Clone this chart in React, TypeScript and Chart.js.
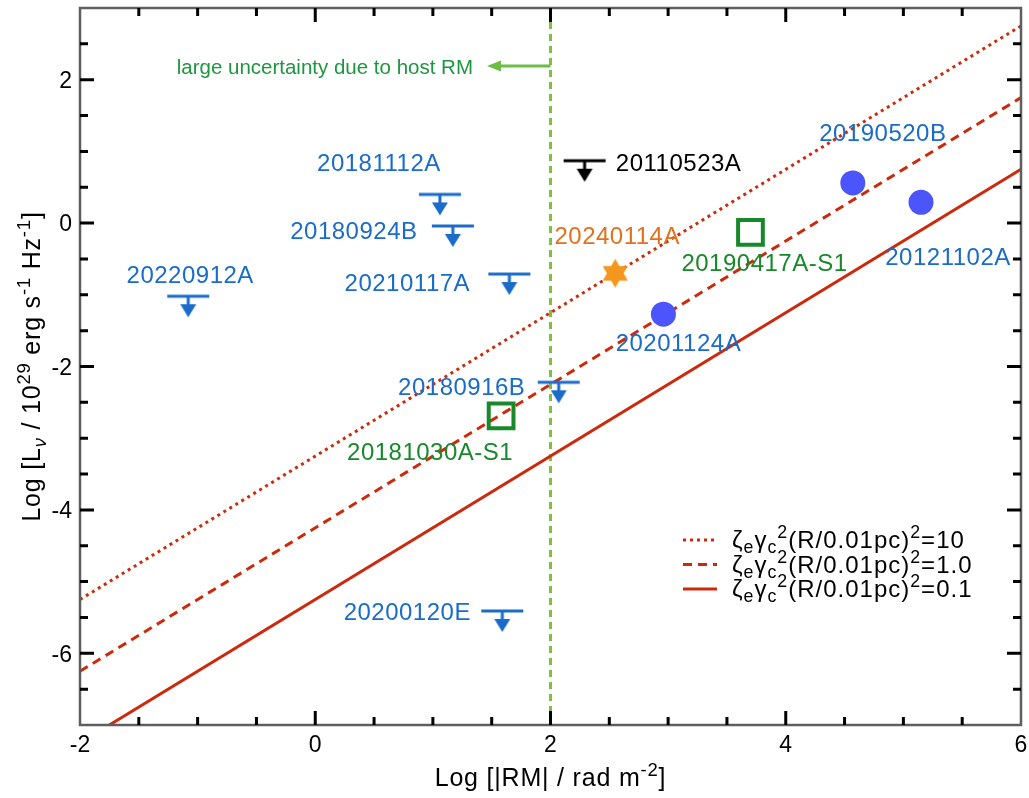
import React, { useEffect, useRef } from 'react';
import { Chart, registerables } from 'chart.js';

Chart.register(...registerables);

const FONT = '"Liberation Sans", Arial, Helvetica, sans-serif';

// ---- axes ----
const xMin = -2;
const xMax = 6;
const yMin = -7;
const yMax = 3;
const xTickValues = [-2, 0, 2, 4, 6];
const yTickValues = [-6, -4, -2, 0, 2];
const xTickLabels = ['-2', '0', '2', '4', '6'];
const yTickLabels = ['-6', '-4', '-2', '0', '2'];
const minorStep = 0.5;

// ---- model lines: Log L vs Log |RM| ----
const modelX = [-2, 6];
const modelDottedY = [-5.25, 2.75];
const modelDashedY = [-6.25, 1.75];
const modelSolidY = [-7.25, 0.75];
const modelValues = ['10', '1.0', '0.1'];

// ---- host RM boundary ----
const boundaryX = [2, 2];
const boundaryY = [-7, 3];
const noteText = 'large uncertainty due to host RM';
const noteY = 2.19;
const noteArrowTipX = 1.46;

// ---- sources ----
const circleNames = ['20190520B', '20121102A', '20201124A'];
const circleX = [4.57, 5.15, 2.96];
const circleY = [0.56, 0.29, -1.27];

const starNames = ['20240114A'];
const starX = [2.55];
const starY = [-0.7];

const squareNames = ['20190417A-S1', '20181030A-S1'];
const squareX = [3.7, 1.58];
const squareY = [-0.13, -2.69];

const limitNames = ['20181112A', '20180924B', '20210117A', '20220912A', '20180916B', '20200120E'];
const limitX = [1.06, 1.17, 1.65, -1.08, 2.07, 1.59];
const limitY = [0.4, -0.04, -0.71, -1.02, -2.22, -5.41];

const blackLimitNames = ['20110523A'];
const blackLimitX = [2.29];
const blackLimitY = [0.87];

// label placement (pixel offset of text centre from marker)
const labelOffsets: Record<string, [number, number]> = {
  '20190520B': [30, -49],
  '20121102A': [27, 56],
  '20201124A': [15, 30],
  '20240114A': [2, -36],
  '20190417A-S1': [14, 32],
  '20181030A-S1': [-71, 37],
  '20181112A': [-61, -30],
  '20180924B': [-99, 6],
  '20210117A': [-102, 10],
  '20220912A': [2, -20],
  '20180916B': [-97, 6],
  '20200120E': [-95, 2],
  '20110523A': [94, 4],
};

const RED = '#cc2a0c';
const BLUE = '#1a6cc8';
const CIRCLE = '#4c54fb';
const GREEN = '#17892b';
const ORANGE = '#f4971f';
const ORANGE_TEXT = '#e2711c';
const VLINE = '#7cc242';
const NOTE = '#1e9640';

const DOTTED = [3, 4];
const DASHED = [9, 6];

type Seg = { t: string; sub?: boolean; sup?: boolean; italic?: boolean };

function setSpacing(ctx: any, px: number) {
  if ('letterSpacing' in ctx) ctx.letterSpacing = `${px}px`;
}

function drawRich(ctx: CanvasRenderingContext2D, segs: Seg[], x: number, y: number, size: number, align: 'left' | 'center' | 'right') {
  const parts = segs.map((s) => {
    const fs = s.sub || s.sup ? size * 0.74 : size;
    const font = `${s.italic ? 'italic ' : ''}${fs}px ${FONT}`;
    ctx.font = font;
    const w = ctx.measureText(s.t).width;
    const dy = s.sub ? size * 0.22 : s.sup ? -size * 0.4 : 0;
    return { t: s.t, font, w, dy };
  });
  const total = parts.reduce((a, p) => a + p.w, 0);
  let cx = align === 'center' ? x - total / 2 : align === 'right' ? x - total : x;
  ctx.textAlign = 'left';
  ctx.textBaseline = 'alphabetic';
  for (const p of parts) {
    ctx.font = p.font;
    ctx.fillText(p.t, cx, y + p.dy);
    cx += p.w;
  }
}

function makeStar(r: number, color: string) {
  const size = Math.ceil(r * 2 + 2);
  const c = document.createElement('canvas');
  c.width = size;
  c.height = size;
  const g = c.getContext('2d')!;
  const cx = size / 2;
  g.fillStyle = color;
  g.beginPath();
  for (let i = 0; i < 12; i++) {
    const ang = -Math.PI / 2 + (i * Math.PI) / 6;
    const rad = i % 2 === 0 ? r : r / Math.sqrt(3);
    g.lineTo(cx + rad * Math.cos(ang), cx + rad * Math.sin(ang));
  }
  g.closePath();
  g.fill();
  return c;
}

function makeLimit(color: string) {
  const w = 44;
  const h = 52;
  const c = document.createElement('canvas');
  c.width = w;
  c.height = h;
  const g = c.getContext('2d')!;
  const cy = h / 2;
  const cx = w / 2;
  g.strokeStyle = color;
  g.fillStyle = color;
  g.lineWidth = 3;
  g.beginPath();
  g.moveTo(1, cy);
  g.lineTo(w - 1, cy);
  g.moveTo(cx, cy);
  g.lineTo(cx, cy + 10);
  g.stroke();
  g.beginPath();
  g.moveTo(cx - 8, cy + 8);
  g.lineTo(cx + 8, cy + 8);
  g.lineTo(cx, cy + 21);
  g.closePath();
  g.fill();
  return c;
}

const pts = (xs: number[], ys: number[]) => xs.map((x, i) => ({ x, y: ys[i] }));

const legendSegs = (v: string): Seg[] => [
  { t: 'ζ' },
  { t: 'e', sub: true },
  { t: 'γ' },
  { t: 'c', sub: true },
  { t: '2', sup: true },
  { t: '(R/0.01pc)' },
  { t: '2', sup: true },
  { t: '=' + v },
];

const decorPlugin = {
  id: 'decor',
  afterDraw(chart: any) {
    const ctx: CanvasRenderingContext2D = chart.ctx;
    const { left, right, top, bottom } = chart.chartArea;
    const xs = chart.scales.x;
    const ys = chart.scales.y;
    ctx.save();

    // frame
    ctx.strokeStyle = '#5f5f5f';
    ctx.lineWidth = 2.5;
    ctx.setLineDash([]);
    ctx.strokeRect(left, top, right - left, bottom - top);

    // inward ticks on all four sides
    ctx.strokeStyle = '#000';
    ctx.lineWidth = 3;
    ctx.beginPath();
    for (let v = xMin + minorStep; v < xMax - 1e-9; v += minorStep) {
      const major = xTickValues.some((t) => Math.abs(t - v) < 1e-9);
      const len = major ? 14 : 8;
      const px = xs.getPixelForValue(v);
      ctx.moveTo(px, bottom);
      ctx.lineTo(px, bottom - len);
      ctx.moveTo(px, top);
      ctx.lineTo(px, top + len);
    }
    for (let v = yMin + minorStep; v < yMax - 1e-9; v += minorStep) {
      const major = yTickValues.some((t) => Math.abs(t - v) < 1e-9);
      const len = major ? 14 : 8;
      const py = ys.getPixelForValue(v);
      ctx.moveTo(left, py);
      ctx.lineTo(left + len, py);
      ctx.moveTo(right, py);
      ctx.lineTo(right - len, py);
    }
    ctx.stroke();

    // tick labels
    ctx.fillStyle = '#000';
    ctx.font = `23px ${FONT}`;
    ctx.textBaseline = 'alphabetic';
    ctx.textAlign = 'center';
    xTickValues.forEach((v, i) => {
      ctx.fillText(xTickLabels[i], xs.getPixelForValue(v), bottom + 27);
    });
    ctx.textAlign = 'right';
    yTickValues.forEach((v, i) => {
      ctx.fillText(yTickLabels[i], left - 8, ys.getPixelForValue(v) + 8.2);
    });

    // host RM note with arrow
    const ax0 = xs.getPixelForValue(boundaryX[0]);
    const ax1 = xs.getPixelForValue(noteArrowTipX);
    const ay = ys.getPixelForValue(noteY);
    ctx.strokeStyle = '#6bbd45';
    ctx.fillStyle = '#6bbd45';
    ctx.lineWidth = 3;
    ctx.beginPath();
    ctx.moveTo(ax0, ay);
    ctx.lineTo(ax1 + 10, ay);
    ctx.stroke();
    ctx.beginPath();
    ctx.moveTo(ax1, ay);
    ctx.lineTo(ax1 + 14, ay - 5.5);
    ctx.lineTo(ax1 + 14, ay + 5.5);
    ctx.closePath();
    ctx.fill();
    ctx.fillStyle = NOTE;
    ctx.font = `20.5px ${FONT}`;
    ctx.textAlign = 'right';
    ctx.textBaseline = 'middle';
    ctx.fillText(noteText, ax1 - 14, ay + 2);

    // point labels
    setSpacing(ctx, 0.5);
    ctx.font = `24px ${FONT}`;
    ctx.textAlign = 'center';
    ctx.textBaseline = 'middle';
    chart.data.datasets.forEach((ds: any, di: number) => {
      if (!ds.names) return;
      const meta = chart.getDatasetMeta(di);
      ds.names.forEach((name: string, i: number) => {
        const el = meta.data[i];
        const off = labelOffsets[name] || [0, -25];
        ctx.fillStyle = ds.labelColor;
        ctx.fillText(name, el.x + off[0], el.y + off[1]);
      });
    });

    // legend
    setSpacing(ctx, 1);
    const styles = [DOTTED, DASHED, []];
    const rowsY = [540, 564.5, 589];
    styles.forEach((dash, i) => {
      const yy = rowsY[i];
      ctx.strokeStyle = RED;
      ctx.lineWidth = 3;
      ctx.setLineDash(dash);
      ctx.beginPath();
      ctx.moveTo(683, yy);
      ctx.lineTo(717, yy);
      ctx.stroke();
      ctx.setLineDash([]);
      ctx.fillStyle = '#000';
      drawRich(ctx, legendSegs(modelValues[i]), 732, yy + 8, 24, 'left');
    });

    // axis titles
    ctx.fillStyle = '#000';
    setSpacing(ctx, 0.8);
    drawRich(
      ctx,
      [{ t: 'Log [|RM| / rad m' }, { t: '-2', sup: true }, { t: ']' }],
      (left + right) / 2,
      786,
      25,
      'center'
    );
    ctx.save();
    ctx.translate(40, (top + bottom) / 2);
    ctx.rotate(-Math.PI / 2);
    drawRich(
      ctx,
      [
        { t: 'Log [L' },
        { t: 'ν', sub: true, italic: true },
        { t: ' / 10' },
        { t: '29', sup: true },
        { t: ' erg s' },
        { t: '-1', sup: true },
        { t: ' Hz' },
        { t: '-1', sup: true },
        { t: ']' },
      ],
      0,
      0,
      25,
      'center'
    );
    ctx.restore();
    setSpacing(ctx, 0);

    ctx.restore();
  },
};

export default function App() {
  const ref = useRef<HTMLCanvasElement>(null);
  useEffect(() => {
    document.body.style.margin = '0';
    const starImg = makeStar(14.5, ORANGE);
    const limitBlue = makeLimit(BLUE);
    const limitBlack = makeLimit('#000');
    const chart = new Chart(ref.current!, {
      type: 'scatter',
      data: {
        datasets: [
          {
            label: 'model 10',
            data: pts(modelX, modelDottedY),
            showLine: true,
            borderColor: RED,
            borderWidth: 3,
            borderDash: DOTTED,
            pointRadius: 0,
            order: 3,
          },
          {
            label: 'model 1.0',
            data: pts(modelX, modelDashedY),
            showLine: true,
            borderColor: RED,
            borderWidth: 3,
            borderDash: DASHED,
            pointRadius: 0,
            order: 3,
          },
          {
            label: 'model 0.1',
            data: pts(modelX, modelSolidY),
            showLine: true,
            borderColor: RED,
            borderWidth: 3,
            pointRadius: 0,
            order: 3,
          },
          {
            label: 'host RM boundary',
            data: pts(boundaryX, boundaryY),
            showLine: true,
            borderColor: VLINE,
            borderWidth: 3,
            borderDash: [7, 5],
            pointRadius: 0,
            order: 4,
          },
          {
            label: 'circles',
            data: pts(circleX, circleY),
            pointStyle: 'circle',
            pointRadius: 12.5,
            backgroundColor: CIRCLE,
            borderWidth: 0,
            names: circleNames,
            labelColor: BLUE,
            order: 0,
          } as any,
          {
            label: 'star',
            data: pts(starX, starY),
            pointStyle: starImg,
            pointRadius: 14,
            names: starNames,
            labelColor: ORANGE_TEXT,
            order: 0,
          } as any,
          {
            label: 'squares',
            data: pts(squareX, squareY),
            pointStyle: 'rect',
            pointRadius: 17.5,
            backgroundColor: 'rgba(0,0,0,0)',
            borderColor: GREEN,
            borderWidth: 4,
            names: squareNames,
            labelColor: GREEN,
            order: 0,
          } as any,
          {
            label: 'upper limits',
            data: pts(limitX, limitY),
            pointStyle: limitBlue,
            pointRadius: 20,
            names: limitNames,
            labelColor: BLUE,
            order: 0,
          } as any,
          {
            label: 'upper limit (black)',
            data: pts(blackLimitX, blackLimitY),
            pointStyle: limitBlack,
            pointRadius: 20,
            names: blackLimitNames,
            labelColor: '#000',
            order: 0,
          } as any,
        ],
      },
      options: {
        animation: false,
        responsive: false,
        maintainAspectRatio: false,
        events: [],
        layout: { autoPadding: false, padding: { left: 0, top: 8, right: 8, bottom: 0 } },
        plugins: { legend: { display: false }, tooltip: { enabled: false } },
        scales: {
          x: {
            type: 'linear',
            min: xMin,
            max: xMax,
            afterBuildTicks: (s: any) => {
              s.ticks = xTickValues.map((v) => ({ value: v }));
            },
            afterFit: (s: any) => {
              s.height = 73;
            },
            ticks: { display: false },
            grid: { display: false, drawTicks: false },
            border: { display: false },
          },
          y: {
            type: 'linear',
            min: yMin,
            max: yMax,
            afterBuildTicks: (s: any) => {
              s.ticks = yTickValues.map((v) => ({ value: v }));
            },
            afterFit: (s: any) => {
              s.width = 80;
            },
            ticks: { display: false },
            grid: { display: false, drawTicks: false },
            border: { display: false },
          },
        },
      },
      plugins: [decorPlugin],
    } as any);
    return () => chart.destroy();
  }, []);
  return (
    <div style={{ width: 1029, height: 798, background: '#fff' }}>
      <canvas ref={ref} width={1029} height={798} style={{ display: 'block', width: 1029, height: 798 }} />
    </div>
  );
}
